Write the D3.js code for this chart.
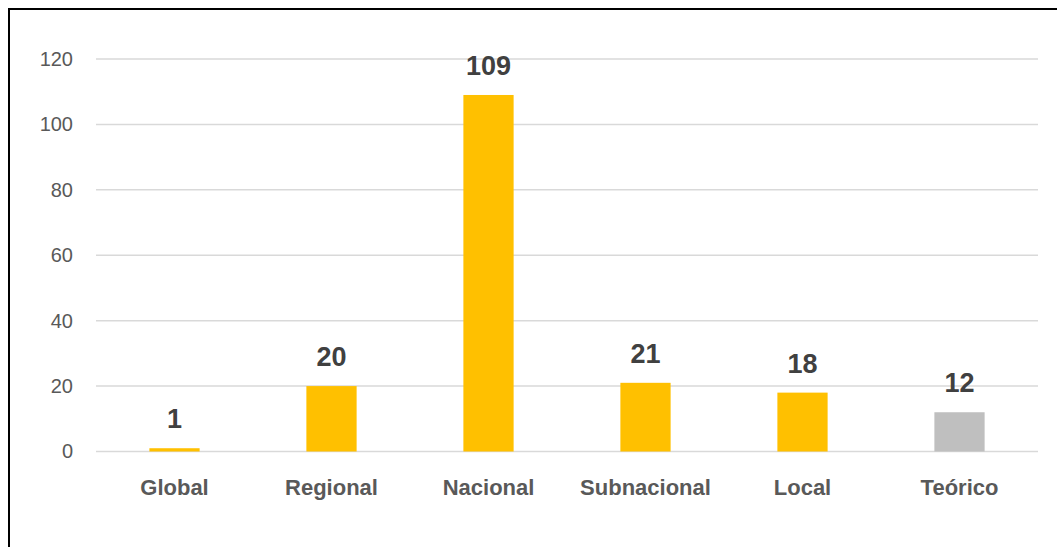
<!DOCTYPE html>
<html>
<head>
<meta charset="utf-8">
<script src="https://cdn.jsdelivr.net/npm/d3@7"></script>
<style>
  html, body { margin: 0; padding: 0; background: #fff; }
  svg { display: block; }
</style>
</head>
<body>
<svg id="chart" width="1057" height="547"></svg>
<script>
// Number of studies per scale of analysis
const categories = ["Global", "Regional", "Nacional", "Subnacional", "Local", "Teórico"];
const counts = [1, 20, 109, 21, 18, 12];
const barColors = ["#FFC000", "#FFC000", "#FFC000", "#FFC000", "#FFC000", "#BFBFBF"];
const yTicks = [0, 20, 40, 60, 80, 100, 120];

const svg = d3.select("#chart");
const font = "'Liberation Sans', Arial, sans-serif";

// outer frame
svg.append("rect")
  .attr("x", 9).attr("y", 9)
  .attr("width", 1060).attr("height", 560)
  .attr("fill", "none").attr("stroke", "#000").attr("stroke-width", 2);

const plot = { left: 96, right: 1038, top: 59, bottom: 451.5 };

const x = d3.scaleBand()
  .domain(categories)
  .range([plot.left, plot.right])
  .paddingInner(0.68)
  .paddingOuter(0.34);

const y = d3.scaleLinear()
  .domain([0, 120])
  .range([plot.bottom, plot.top]);

// gridlines
svg.append("g")
  .selectAll("line")
  .data(yTicks)
  .join("line")
  .attr("x1", plot.left).attr("x2", plot.right)
  .attr("y1", d => y(d)).attr("y2", d => y(d))
  .attr("stroke", "#D9D9D9").attr("stroke-width", 1.5);

// y axis labels
const yAxis = svg.append("g")
  .attr("transform", `translate(${plot.left - 23},0)`)
  .call(d3.axisLeft(y).tickValues(yTicks).tickSize(0).tickPadding(0));
yAxis.select(".domain").remove();
yAxis.selectAll("text")
  .attr("font-family", font).attr("font-size", 20)
  .attr("fill", "#595959");

// bars
svg.append("g")
  .selectAll("rect")
  .data(categories)
  .join("rect")
  .attr("x", d => x(d))
  .attr("width", x.bandwidth())
  .attr("y", (d, i) => y(counts[i]))
  .attr("height", (d, i) => y(0) - y(counts[i]))
  .attr("fill", (d, i) => barColors[i]);

// value labels
svg.append("g")
  .selectAll("text")
  .data(categories)
  .join("text")
  .attr("x", d => x(d) + x.bandwidth() / 2)
  .attr("y", (d, i) => y(counts[i]) - 20)
  .attr("text-anchor", "middle")
  .attr("font-family", font).attr("font-weight", "bold").attr("font-size", 27)
  .attr("fill", "#404040")
  .text((d, i) => counts[i]);

// category labels
const xAxis = svg.append("g")
  .attr("transform", `translate(0,${plot.bottom})`)
  .call(d3.axisBottom(x).tickSize(0).tickPadding(0));
xAxis.select(".domain").remove();
xAxis.selectAll("text")
  .attr("dy", null)
  .attr("y", 43.5)
  .attr("font-family", font).attr("font-weight", "bold").attr("font-size", 22)
  .attr("fill", "#595959");
</script>
</body>
</html>
